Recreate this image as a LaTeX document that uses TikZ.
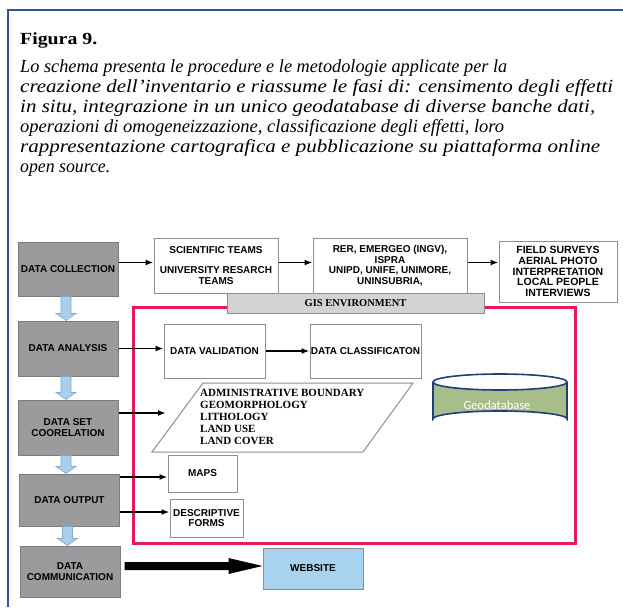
\documentclass[tikz,border=0pt]{standalone}
\usepackage{graphicx}
\usepackage{fontspec}
\setmainfont{Liberation Serif}
\newfontfamily\boxsans{Liberation Sans}
\newfontfamily\dbsans{Carlito}
\usetikzlibrary{arrows.meta,calc}

\definecolor{frameblue}{HTML}{2F5496}
\definecolor{phasefill}{HTML}{9B9B9D}
\definecolor{phaseedge}{HTML}{7C7C7E}
\definecolor{itemedge}{HTML}{8E8E8E}
\definecolor{gisfill}{HTML}{D3D3D5}
\definecolor{envred}{HTML}{E6195A}
\definecolor{flowblue}{HTML}{A9CFEC}
\definecolor{flowedge}{HTML}{86AACB}
\definecolor{dbgreen}{HTML}{A8BE8A}
\definecolor{dbedge}{HTML}{1F3E7A}
\definecolor{webblue}{HTML}{A8D2EF}

% caption line set to a given width, height unchanged
\newcommand{\capline}[2]{\resizebox{#1}{\height}{#2}}

\begin{document}
\begin{tikzpicture}[x=1pt,y=-1pt,
  boxtext/.style={font=\boxsans\bfseries\fontsize{10}{10.7}\selectfont},
  phase/.style={boxtext, draw=phaseedge, line width=1pt, fill=phasefill,
    inner sep=0pt, align=center},
  item/.style={boxtext, draw=itemedge, line width=1pt, fill=white,
    inner sep=0pt, align=center},
  arr/.style={line width=1.8pt, -{Latex[length=8pt,width=6pt]}},
  blockarr/.style={fill=flowblue, draw=flowedge, line width=0.6pt},
  caption/.style={anchor=base west, inner sep=0pt,
    font=\itshape\fontsize{18.5}{20}\selectfont},
]
\useasboundingbox (0,0) rectangle (623,607);

% page frame (top and left rules)
\draw[frameblue, line width=2pt] (8,607) -- (8,10) -- (623,10);

% caption
\node[anchor=base west, inner sep=0pt, font=\bfseries\fontsize{17}{20}\selectfont]
  (fig) at (20,45) {\capline{77pt}{Figura 9.}};
\node[caption] (c1) at (20,72.5) {\capline{487pt}{Lo schema presenta le procedure e le metodologie applicate per la}};
\node[caption] (c2) at (20,92.5) {\capline{593pt}{creazione dell’inventario e riassume le fasi di: censimento degli effetti}};
\node[caption] (c3) at (20,112.5) {\capline{575pt}{in situ, integrazione in un unico geodatabase di diverse banche dati,}};
\node[caption] (c4) at (20,132.5) {\capline{484pt}{operazioni di omogeneizzazione, classificazione degli effetti, loro}};
\node[caption] (c5) at (20,152.5) {\capline{580pt}{rappresentazione cartografica e pubblicazione su piattaforma online}};
\node[caption] (c6) at (20,172.5) {\capline{90pt}{open source.}};

% GIS environment frame
\node[draw=envred, line width=3pt, minimum width=442pt, minimum height=236pt,
  inner sep=0pt] (env) at (354,425) {};

% phases (left column)
\node[phase, minimum width=100pt, minimum height=54pt] (dc) at (68,269) {DATA COLLECTION};
\node[phase, minimum width=100pt, minimum height=55pt] (da) at (68,348.5) {DATA ANALYSIS};
\node[phase, minimum width=100pt, minimum height=55pt] (ds) at (68,427.5) {DATA SET\\COORELATION};
\node[phase, minimum width=100pt, minimum height=52pt] (dout) at (69.5,500) {DATA OUTPUT};
\node[phase, minimum width=100pt, minimum height=51pt] (dcom) at (70,571.5) {DATA\\COMMUNICATION};

% down arrows between phases
\foreach \a/\b in {dc/da,da/ds,ds/dout,dout/dcom} {
  \path ([xshift=-2pt]\a.south) coordinate (s) (s |- \b.north) coordinate (e);
  \filldraw[blockarr] ($(s)+(-5,0)$) -- ($(e)+(-5,-7)$) -- ($(e)+(-10,-7)$) -- (e)
    -- ($(e)+(10,-7)$) -- ($(e)+(5,-7)$) -- ($(s)+(5,0)$) -- cycle;
}

% data sources
\node[item, minimum width=124pt, minimum height=55pt] (st) at (216,265.5)
  {SCIENTIFIC TEAMS\\[10pt]UNIVERSITY RESARCH\\TEAMS};
\node[item, minimum width=154pt, minimum height=55pt] (rer) at (390,265.5)
  {RER, EMERGEO (INGV),\\ISPRA\\UNIPD, UNIFE, UNIMORE,\\UNINSUBRIA,};
\node[item, minimum width=118pt, minimum height=61pt,
  font=\boxsans\bfseries\fontsize{10.5}{10.7}\selectfont] (fs) at (558,271.5)
  {FIELD SURVEYS\\AERIAL PHOTO\\INTERPRETATION\\LOCAL PEOPLE\\INTERVIEWS};

% GIS bar
\node[draw=itemedge, line width=1pt, fill=gisfill, minimum width=257pt,
  minimum height=20pt, inner sep=0pt, font=\bfseries\fontsize{10.5}{12}\selectfont]
  (gis) at (355.5,303) {GIS ENVIRONMENT};

\path ([yshift=3pt]st.west) coordinate (stin);
\draw[arr] (dc.east |- stin) -- (stin);
\draw[arr] ([yshift=3pt]st.east) -- ([yshift=3pt]rer.west);
\draw[arr] ([yshift=3pt]rer.east) -- ([yshift=3pt]rer.east -| fs.west);

% validation and classification
\node[item, minimum width=101pt, minimum height=54pt] (dv) at (214.5,351) {DATA VALIDATION};
\node[item, minimum width=111pt, minimum height=54pt] (dcl) at (365.5,351) {DATA CLASSIFICATON};
\draw[arr] (da.east) -- (da.east -| dv.west);
\draw[arr] (dv.east) -- (dcl.west);

% thematic layers
\draw[draw=itemedge, line width=1pt, fill=white]
  (152,452) -- (203,383) -- (413,383) -- (363,452) -- cycle;
\node[anchor=north west, inner sep=0pt, align=left,
  font=\bfseries\fontsize{11}{12}\selectfont] (layers) at (200,389.5)
  {ADMINISTRATIVE BOUNDARY\\GEOMORPHOLOGY\\LITHOLOGY\\LAND USE\\LAND COVER};
\coordinate (layin) at (166,413);
\draw[arr] (ds.east |- layin) -- (layin);

% geodatabase
\fill[dbgreen] (433,382) -- (433,419) arc[start angle=180, end angle=360, x radius=67, y radius=8]
  -- (567,382) arc[start angle=0, end angle=180, x radius=67, y radius=8] -- cycle;
\draw[dbedge, line width=1.6pt] (433,382) -- (433,419)
  arc[start angle=180, end angle=360, x radius=67, y radius=8] -- (567,382);
\draw[dbedge, line width=1.6pt] (500,382) ellipse[x radius=67, y radius=8];
\node[text=white, font=\dbsans\fontsize{12.5}{14}\selectfont] (gdb) at (497,405) {Geodatabase};

% outputs
\node[item, minimum width=69pt, minimum height=37pt] (maps) at (202.5,473.5) {MAPS};
\node[item, minimum width=73pt, minimum height=38pt] (desc) at (206.5,518) {DESCRIPTIVE\\FORMS};
\path ([yshift=-3.5pt]maps.west) coordinate (mapin) ([yshift=6pt]desc.west) coordinate (descin);
\draw[arr] (dout.east |- mapin) -- (mapin);
\draw[arr] (dout.east |- descin) -- (descin);

% website
\node[draw=itemedge, line width=1pt, fill=webblue, boxtext, minimum width=100pt,
  minimum height=41pt, inner sep=0pt] (web) at (313,568.5) {WEBSITE};
\path ([yshift=2.5pt]web.west) coordinate (wa) ([xshift=4pt]dcom.east |- wa) coordinate (wb);
\fill[black] ($(wb)+(0,-4)$) -- ($(wa)+(-34,-4)$) -- ($(wa)+(-34,-8)$) -- (wa)
  -- ($(wa)+(-34,8)$) -- ($(wa)+(-34,4)$) -- ($(wb)+(0,4)$) -- cycle;
\end{tikzpicture}
\end{document}
